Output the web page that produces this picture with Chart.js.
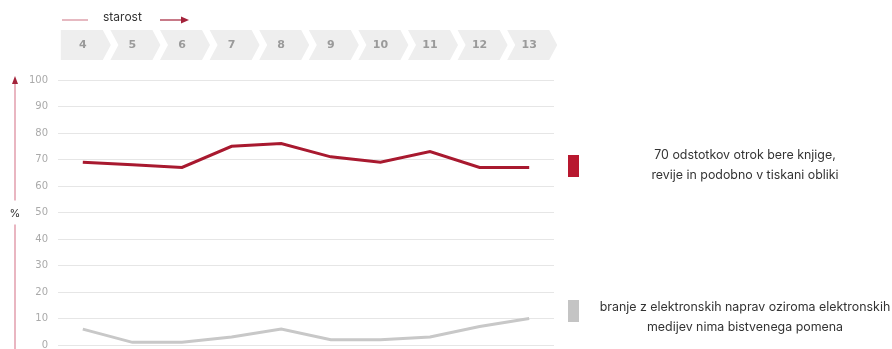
<!DOCTYPE html>
<html>
<head>
<meta charset="utf-8">
<script src="https://cdn.jsdelivr.net/npm/chart.js@4"></script>
<style>
  html, body { margin: 0; padding: 0; background: #fff; overflow: hidden; }
  #wrap { position: relative; width: 892px; height: 349px; overflow: hidden; }
  canvas { display: block; }
</style>
</head>
<body>
<div id="wrap"><canvas id="chart" width="892" height="361"></canvas></div>
<script>
// starost (leta)
const ages = ['4', '5', '6', '7', '8', '9', '10', '11', '12', '13'];
// tiskani mediji, %
const printValues = [69, 68, 67, 75, 76, 71, 69, 73, 67, 67];
// elektronske naprave, %
const digitalValues = [6, 1, 1, 3, 6, 2, 2, 3, 7, 10];
const yTicks = [0, 10, 20, 30, 40, 50, 60, 70, 80, 90, 100];

const legendItems = [
    { color: '#b8182f', box: 155, text: 155, lines: ['70 odstotkov otrok bere knjige,', 'revije in podobno v tiskani obliki'] },
    { color: '#c4c4c4', box: 300, text: 307, lines: ['branje z elektronskih naprav oziroma elektronskih', 'medijev nima bistvenega pomena'] }
];

// okrasje: puščice, starost, chevroni, legenda
const decor = {
    id: 'decor',
    beforeDraw(chart) {
        const ctx = chart.ctx;
        const x = chart.scales.x;
        const y = chart.scales.y;
        ctx.save();

        // chevron pas z leti
        ages.forEach((a, i) => {
            const cx = x.getPixelForValue(i);
            const l = cx - 22, r = cx + 20, t = 30, b = 60, m = 45;
            ctx.fillStyle = '#eeeeee';
            ctx.beginPath();
            ctx.moveTo(l, t);
            ctx.lineTo(r, t);
            ctx.lineTo(r + 8, m);
            ctx.lineTo(r, b);
            ctx.lineTo(l, b);
            if (i > 0) ctx.lineTo(l + 8, m);
            ctx.closePath();
            ctx.fill();
            ctx.fillStyle = '#9a9a9a';
            ctx.font = 'bold 11px "DejaVu Sans"';
            ctx.textAlign = 'center';
            ctx.textBaseline = 'middle';
            ctx.fillText(a, cx, m);
        });

        // starost + puščica
        ctx.strokeStyle = '#d68a98';
        ctx.lineWidth = 1.2;
        ctx.beginPath(); ctx.moveTo(62, 20); ctx.lineTo(88, 20); ctx.stroke();
        ctx.strokeStyle = '#a3223a';
        ctx.beginPath(); ctx.moveTo(160, 20); ctx.lineTo(182, 20); ctx.stroke();
        ctx.fillStyle = '#a3223a';
        ctx.beginPath(); ctx.moveTo(189, 20); ctx.lineTo(181, 16.5); ctx.lineTo(181, 23.5); ctx.closePath(); ctx.fill();
        ctx.fillStyle = '#333';
        ctx.font = '12px Inter';
        ctx.textAlign = 'left';
        ctx.textBaseline = 'middle';
        ctx.fillText('starost', 103, 17);

        // navpična os s puščico in %
        const yMid = y.getPixelForValue(50);
        ctx.strokeStyle = '#dd8fa0';
        ctx.lineWidth = 1.3;
        ctx.beginPath(); ctx.moveTo(15, 83); ctx.lineTo(15, yMid - 12); ctx.stroke();
        ctx.beginPath(); ctx.moveTo(15, yMid + 12); ctx.lineTo(15, 349); ctx.stroke();
        ctx.fillStyle = '#a3223a';
        ctx.beginPath(); ctx.moveTo(15, 76); ctx.lineTo(12, 84); ctx.lineTo(18, 84); ctx.closePath(); ctx.fill();
        ctx.fillStyle = '#333';
        ctx.font = '11px Inter';
        ctx.textAlign = 'center';
        ctx.fillText('%', 15, yMid + 1);

        // legenda
        legendItems.forEach(it => {
            ctx.fillStyle = it.color;
            ctx.fillRect(568, it.box, 11, 22);
            ctx.fillStyle = '#333';
            ctx.font = '12.4px Inter';
            ctx.textAlign = 'center';
            ctx.textBaseline = 'middle';
            it.lines.forEach((ln, j) => ctx.fillText(ln, 745, it.text + j * 20));
        });
        ctx.restore();
    }
};

new Chart(document.getElementById('chart'), {
    type: 'line',
    data: {
        labels: ages,
        datasets: [
            {
                label: 'tiskano',
                data: printValues,
                borderColor: '#a8192f',
                borderWidth: 3,
                pointRadius: 0,
                tension: 0
            },
            {
                label: 'elektronsko',
                data: digitalValues,
                borderColor: '#c8c8c8',
                borderWidth: 3,
                pointRadius: 0,
                tension: 0
            }
        ]
    },
    options: {
        responsive: false,
        animation: false,
        layout: { padding: { top: 80, right: 338, bottom: 0, left: 0 } },
        plugins: { legend: { display: false }, tooltip: { enabled: false } },
        scales: {
            x: { display: false, offset: true },
            y: {
                min: 0,
                max: 100,
                afterFit: s => { s.width = 58; },
                afterBuildTicks: s => { s.ticks = yTicks.map(v => ({ value: v })); },
                border: { display: false },
                grid: { color: '#e6e6e6', lineWidth: 1, drawTicks: false },
                ticks: {
                    padding: 10,
                    color: '#aaaaaa',
                    font: { family: 'DejaVu Sans', size: 10 }
                }
            }
        }
    },
    plugins: [decor]
});
</script>
</body>
</html>
